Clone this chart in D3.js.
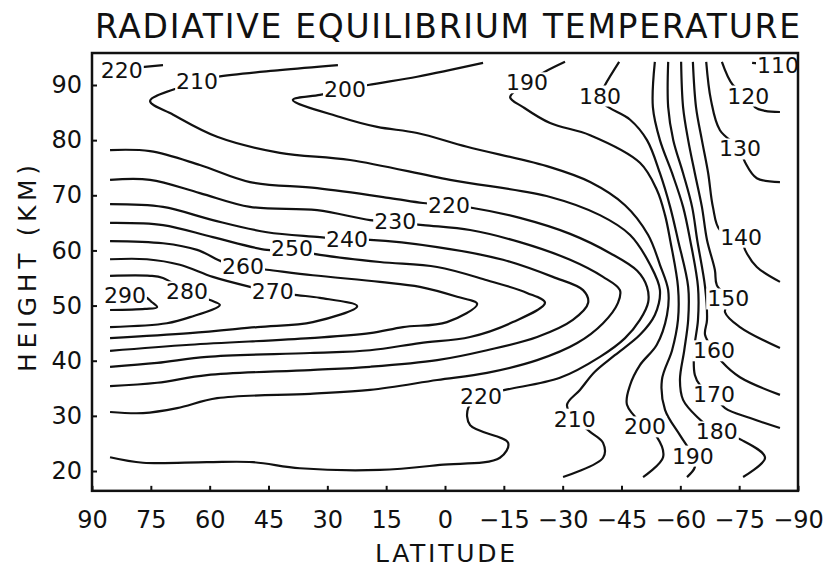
<!DOCTYPE html>
<html>
<head>
<meta charset="utf-8">
<script src="https://cdn.jsdelivr.net/npm/d3@7"></script>
<style>
  body { margin: 0; background: #fff; }
  svg { display: block; }
  text { font-family: "DejaVu Sans", sans-serif; fill: #111; }
</style>
</head>
<body>
<script>
/*
 * Radiative equilibrium temperature (K) as contour lines,
 * latitude against height. Each contour is a list of [latitude, km]
 * points.
 */

const xTicks = [90, 75, 60, 45, 30, 15, 0, -15, -30, -45, -60, -75, -90];
const yTicks = [20, 30, 40, 50, 60, 70, 80, 90];

const c110 = [[-78.3, 94.0], [-85.4, 93.6]];
const c120 = [[-70.6, 94.2], [-73.4, 90.0], [-77.3, 88.0], [-79.0, 86.0], [-81.6, 85.3], [-85.4, 85.1]];
const c130 = [[-66.6, 94.2], [-67.8, 87.3], [-70.1, 81.8], [-75.2, 78.4], [-76.5, 76.0], [-79.5, 73.1], [-85.4, 72.4]];
const c140 = [[-63.2, 94.2], [-64.0, 86.0], [-65.5, 80.0], [-67.1, 74.0], [-68.3, 67.9], [-70.1, 63.7],
  [-75.5, 62.4], [-76.5, 60.1], [-79.5, 57.0], [-85.4, 54.3]];
const c150 = [[-60.2, 94.2], [-60.7, 86.0], [-62.0, 80.0], [-63.7, 74.0], [-65.5, 67.9], [-66.8, 61.9],
  [-68.8, 56.5], [-69.3, 53.7], [-72.2, 51.2], [-71.4, 48.8], [-75.2, 46.1], [-85.4, 42.3]];
const c160 = [[-56.9, 94.2], [-56.9, 86.0], [-58.2, 80.0], [-60.7, 74.0], [-63.0, 67.9], [-64.3, 61.9],
  [-66.3, 53.4], [-66.8, 47.4], [-66.3, 44.7], [-68.6, 41.8], [-70.6, 39.8], [-75.2, 37.0], [-85.4, 33.8]];
const c170 = [[-53.5, 94.2], [-53.0, 86.0], [-54.8, 80.0], [-57.9, 74.0], [-60.7, 67.9], [-62.5, 61.9],
  [-64.5, 53.4], [-64.5, 47.4], [-63.5, 41.9], [-63.7, 37.4], [-65.0, 35.6], [-68.6, 33.8],
  [-71.4, 31.4], [-77.8, 29.6], [-85.4, 27.8]];
const c180 = [[-44.4, 94.2], [-40.8, 90.0], [-39.5, 88.0], [-40.8, 86.4], [-47.2, 83.7], [-51.5, 80.0],
  [-54.8, 74.0], [-57.4, 67.9], [-59.4, 61.9], [-62.0, 53.4], [-62.0, 47.4], [-61.0, 41.9],
  [-59.9, 36.5], [-60.7, 32.9], [-64.3, 29.8], [-69.3, 27.1], [-75.7, 25.6], [-81.6, 22.4], [-76.0, 18.9]];
const c190 = [[-30.6, 94.2], [-25.5, 92.4], [-20.9, 90.4], [-16.6, 87.8], [-19.9, 86.0], [-26.8, 83.1],
  [-37.0, 80.9], [-49.7, 75.9], [-54.0, 71.0], [-56.1, 66.4], [-57.4, 61.9], [-59.4, 53.4],
  [-59.4, 47.4], [-57.9, 41.9], [-55.3, 36.5], [-56.1, 31.1], [-59.9, 26.5], [-63.2, 22.7],
  [-63.7, 20.7], [-61.7, 18.9]];
const c200 = [[-9.7, 94.0], [7.1, 91.5], [19.6, 90.0], [25.5, 89.1], [31.9, 88.2], [38.8, 87.3],
  [26.8, 84.2], [17.3, 82.4], [7.1, 81.3], [-5.6, 78.8], [-26.8, 75.1], [-37.0, 72.4],
  [-45.9, 68.2], [-51.8, 62.8], [-54.8, 57.4], [-56.9, 52.8], [-56.6, 48.3], [-54.0, 42.9],
  [-49.7, 39.2], [-47.2, 35.6], [-46.4, 32.0], [-51.0, 28.0], [-54.0, 26.2], [-55.6, 22.5], [-50.5, 18.9]];
const c210 = [[27.3, 93.6], [42.1, 92.7], [58.1, 91.5], [63.2, 90.7], [67.6, 89.6], [75.2, 87.1],
  [69.3, 84.6], [58.1, 80.6], [42.1, 77.7], [24.2, 76.4], [-1.3, 72.8], [-26.8, 69.7],
  [-39.5, 66.4], [-47.2, 62.8], [-52.3, 57.4], [-54.8, 52.8], [-53.5, 48.3], [-49.7, 44.7],
  [-43.3, 41.0], [-38.2, 38.0], [-34.4, 34.7], [-31.1, 32.0], [-33.1, 29.4], [-37.0, 27.1],
  [-40.3, 25.1], [-40.3, 22.4], [-30.1, 18.9]];
const c220a = [[85.4, 92.7], [71.9, 93.6]];
const c220 = [[85.4, 78.2], [75.2, 78.0], [62.5, 75.5], [49.7, 72.4], [32.6, 71.3], [14.0, 69.5],
  [5.6, 68.6], [-1.0, 68.2], [-7.1, 67.7], [-19.1, 65.9], [-31.9, 63.0], [-42.1, 59.5],
  [-49.0, 56.3], [-51.5, 53.4], [-51.8, 50.6], [-49.7, 47.4], [-45.9, 44.1], [-39.5, 40.7],
  [-29.3, 36.9], [-15.3, 34.7], [-9.2, 33.6], [-5.9, 31.4], [-6.4, 28.3], [-16.1, 25.1],
  [-14.0, 22.4], [1.3, 21.1], [16.6, 20.2], [37.0, 20.5], [49.0, 21.6], [60.7, 21.6],
  [77.0, 21.5], [85.4, 22.5]];
const c230 = [[85.4, 72.8], [75.2, 72.8], [62.5, 70.4], [49.7, 67.9], [32.6, 67.3], [19.1, 65.5],
  [12.7, 65.2], [5.6, 64.6], [-6.4, 63.7], [-19.1, 61.5], [-31.9, 58.3], [-40.3, 55.2],
  [-44.6, 52.8], [-44.1, 50.5], [-40.3, 46.8], [-33.7, 43.2], [-23.5, 40.1], [-10.7, 37.8],
  [2.0, 36.5], [19.1, 34.7], [34.4, 34.0], [58.1, 33.2], [68.3, 31.4], [77.0, 30.5], [85.4, 30.7]];
const c240 = [[85.4, 68.4], [71.9, 67.9], [59.2, 65.5], [45.4, 63.3], [31.9, 62.4], [25.0, 61.9],
  [19.1, 61.9], [2.0, 60.6], [-14.8, 58.3], [-27.5, 55.2], [-35.2, 52.8], [-36.5, 50.5],
  [-32.6, 47.4], [-23.5, 44.3], [-10.7, 41.9], [2.0, 40.1], [19.1, 38.9], [34.4, 38.3],
  [60.7, 37.4], [73.4, 36.0], [85.4, 35.4]];
const c250 = [[85.4, 65.0], [71.9, 64.6], [59.2, 62.4], [45.4, 60.1], [39.0, 60.1], [31.9, 59.2],
  [16.6, 57.9], [2.0, 57.0], [-10.7, 54.6], [-20.9, 52.3], [-25.5, 50.5], [-17.3, 47.0],
  [-6.4, 44.3], [6.4, 43.2], [19.1, 41.9], [34.4, 41.4], [60.7, 40.7], [73.4, 39.6], [85.4, 38.9]];
const c260 = [[85.4, 61.7], [71.9, 61.3], [63.2, 60.1], [56.6, 57.9], [51.5, 57.0], [45.4, 56.5],
  [33.7, 55.5], [16.6, 54.3], [6.4, 53.4], [-3.1, 51.6], [-8.2, 50.3], [-0.5, 47.0],
  [10.7, 46.1], [19.1, 45.0], [34.4, 44.1], [65.0, 42.9], [85.4, 41.8]];
const c270 = [[85.4, 58.4], [76.0, 58.4], [67.6, 57.4], [59.2, 55.2], [49.7, 53.4], [43.9, 52.5],
  [37.7, 51.9], [31.9, 51.4], [22.4, 49.9], [33.7, 47.0], [47.9, 46.1], [65.0, 45.0], [85.4, 44.1]];
const c280 = [[85.4, 55.4], [75.2, 55.4], [71.9, 55.0], [65.8, 52.5], [59.9, 51.0], [57.4, 50.1],
  [65.0, 47.9], [70.9, 46.8], [85.4, 46.1]];
const c290 = [[85.4, 52.3], [76.5, 51.6], [74.7, 50.6], [73.4, 49.7], [76.5, 49.4], [85.4, 49.2]];

// contour label: [value, latitude, km]
const contourLabels = [
  [220, 82.4, 92.7], [210, 63.2, 90.7], [200, 25.5, 89.1], [190, -20.9, 90.4], [180, -39.5, 88.0],
  [110, -84.9, 93.6], [120, -77.3, 88.0], [130, -75.2, 78.4], [140, -75.5, 62.4], [150, -72.2, 51.2],
  [160, -68.6, 41.8], [170, -68.6, 33.8], [180, -69.3, 27.1], [190, -63.2, 22.7], [200, -51.0, 28.0],
  [210, -33.1, 29.4], [220, -9.2, 33.6], [220, -1.0, 68.2], [230, 12.7, 65.2], [240, 25.0, 61.9],
  [250, 39.0, 60.3], [260, 51.5, 57.0], [270, 43.9, 52.5], [280, 65.8, 52.5], [290, 81.6, 51.9]
];

const contours = [c110, c120, c130, c140, c150, c160, c170, c180, c190, c200,
  c210, c220a, c220, c230, c240, c250, c260, c270, c280, c290];

const width = 823;
const height = 569;

// scales: plot frame runs 90..-90 deg and roughly 16.4..95.8 km
const x = d3.scaleLinear().domain([90, -90]).range([92, 798]);
const y = d3.scaleLinear().domain([20, 90]).range([471, 85]);
const yTop = 95.8;
const yBottom = 16.4;

const svg = d3.select('body')
  .append('svg')
    .attr('width', width)
    .attr('height', height);

// contour lines
const line = d3.line()
    .x(d => x(d[0]))
    .y(d => y(d[1]))
    .curve(d3.curveCatmullRom.alpha(0.5));

svg.append('g')
  .selectAll('path')
  .data(contours)
  .join('path')
    .attr('d', line)
    .attr('fill', 'none')
    .attr('stroke', '#111')
    .attr('stroke-width', 2.2)
    .attr('stroke-linejoin', 'round');

// contour labels; a white box behind each one breaks the line
const labels = svg.append('g')
  .selectAll('g')
  .data(contourLabels)
  .join('g');

labels.append('text')
    .attr('x', d => x(d[1]))
    .attr('y', d => y(d[2]))
    .attr('text-anchor', 'middle')
    .attr('dominant-baseline', 'central')
    .attr('font-size', 22)
    .text(d => d[0]);

labels.each(function () {
  const g = d3.select(this);
  const box = g.select('text').node().getBBox();
  g.insert('rect', 'text')
      .attr('x', box.x - 1)
      .attr('y', box.y + 2)
      .attr('width', box.width + 2)
      .attr('height', box.height - 4)
      .attr('fill', '#fff');
});

// frame
svg.append('rect')
    .attr('x', x(90))
    .attr('y', y(yTop))
    .attr('width', x(-90) - x(90))
    .attr('height', y(yBottom) - y(yTop))
    .attr('fill', 'none')
    .attr('stroke', '#111')
    .attr('stroke-width', 2.5);

// axes with inward ticks
const fmt = d => d < 0 ? '\u2212' + (-d) : String(d);

const xAxis = d3.axisBottom(x)
    .tickValues(xTicks)
    .tickFormat(fmt)
    .tickSize(-5)
    .tickPadding(20);

svg.append('g')
    .attr('transform', `translate(0, ${y(yBottom)})`)
    .call(xAxis)
    .call(g => g.select('.domain').remove())
    .call(g => g.selectAll('line').attr('stroke', '#111').attr('stroke-width', 2))
    .call(g => g.selectAll('text').attr('font-size', 24).attr('font-family', '"DejaVu Sans", sans-serif').attr('fill', '#111'));

const yAxis = d3.axisLeft(y)
    .tickValues(yTicks)
    .tickSize(-5)
    .tickPadding(10);

svg.append('g')
    .attr('transform', `translate(${x(90)}, 0)`)
    .call(yAxis)
    .call(g => g.select('.domain').remove())
    .call(g => g.selectAll('line').attr('stroke', '#111').attr('stroke-width', 2))
    .call(g => g.selectAll('text').attr('font-size', 24).attr('font-family', '"DejaVu Sans", sans-serif').attr('fill', '#111'));

// title and axis labels
svg.append('text')
    .attr('x', 95)
    .attr('y', 38)
    .attr('textLength', 705)
    .attr('font-family', '"DejaVu Sans Mono", monospace')
    .attr('font-size', 33)
    .text('RADIATIVE EQUILIBRIUM TEMPERATURE');

svg.append('text')
    .attr('x', 375)
    .attr('y', 562)
    .attr('textLength', 140)
    .attr('font-size', 25)
    .text('LATITUDE');

svg.append('text')
    .attr('transform', 'translate(36, 372) rotate(-90)')
    .attr('textLength', 207)
    .attr('font-size', 25)
    .text('HEIGHT (KM)');
</script>
</body>
</html>
